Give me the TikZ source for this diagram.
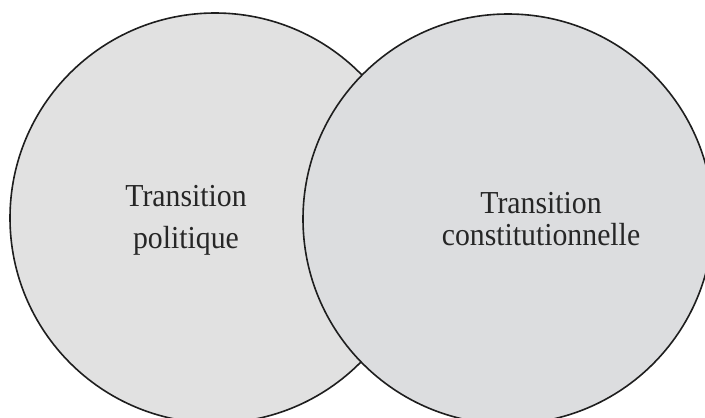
\documentclass[tikz,border=0pt]{standalone}
\usepackage{fontspec}
\setmainfont{Liberation Serif}
\newfontfamily\condfont[FakeStretch=0.93]{Liberation Serif}
\definecolor{leftfill}{HTML}{E1E1E1}
\definecolor{rightfill}{HTML}{DCDDDF}
\definecolor{edge}{HTML}{1E1E1E}
\begin{document}
\begin{tikzpicture}[x=1pt,y=-1pt,
  venn/.style={circle, draw=edge, line width=1.6pt, inner sep=0pt, outer sep=0pt},
  label/.style={anchor=base, inner sep=0pt, text=black!85, font=\condfont\fontsize{32}{36}\selectfont}]
\useasboundingbox (0,0) rectangle (705,418);
\clip (0,0) rectangle (705,418);
\fill[white] (0,0) rectangle (705,418);
\node[venn, fill=leftfill, minimum size=410pt] (L) at (215,218) {};
\node[venn, fill=rightfill, minimum size=410pt] (R) at (508,219) {};
\node[label] (l1) at (186,206) {Transition};
\node[label] (l2) at (186,248) {politique};
\node[label] (r1) at (541,213) {Transition};
\node[label] (r2) at (541,245) {constitutionnelle};
\end{tikzpicture}
\end{document}
